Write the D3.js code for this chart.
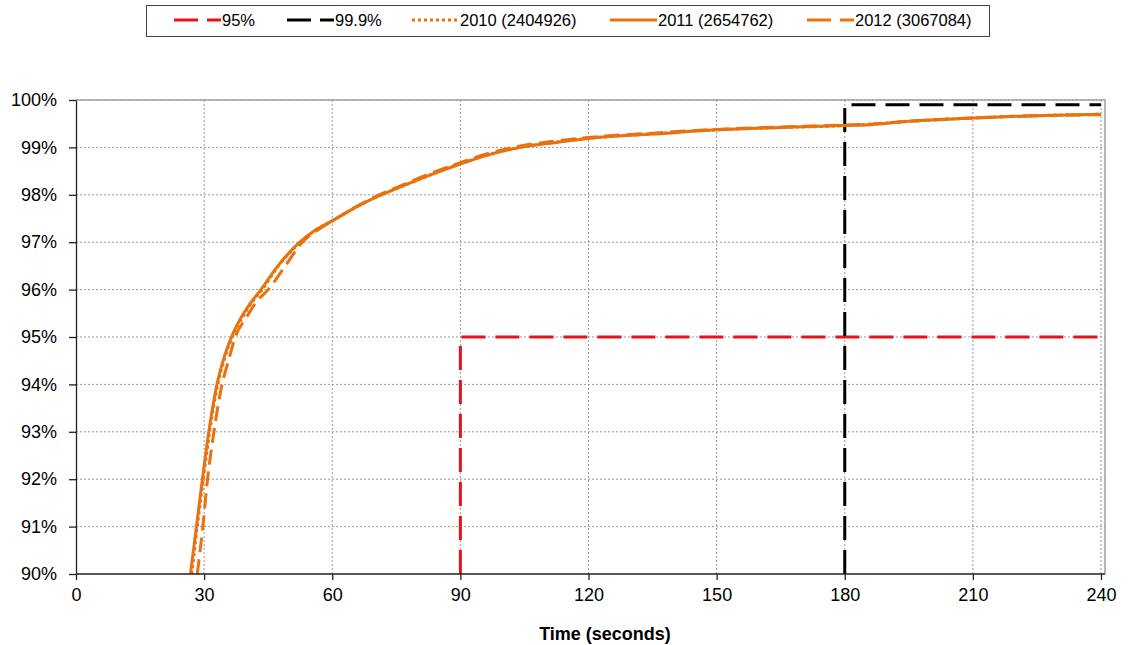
<!DOCTYPE html>
<html>
<head>
<meta charset="utf-8">
<script src="https://cdn.jsdelivr.net/npm/d3@7"></script>
<style>
  body { margin: 0; background: #fff; }
  text { font-family: "Liberation Sans", Arial, sans-serif; fill: #000; }
</style>
</head>
<body>
<div id="chart"></div>
<script>
// response curves (time in s, share answered in %)
var t2010 = [27.1, 28.4, 29.8, 31.3, 33.2, 34.8, 36.6, 38.9, 41.1, 43.6, 47.4, 52.6, 56.0, 60.0, 66.0, 71.0, 75.0, 83.0, 90.0, 98.0, 104.0, 112.0, 120.0, 135.0, 150.0, 165.0, 180.0, 186.0, 195.0, 210.0, 225.0, 240.0];
var v2010 = [90.0, 91.0, 92.0, 93.0, 94.0, 94.55, 95.0, 95.4, 95.72, 96.0, 96.5, 97.0, 97.25, 97.45, 97.76, 97.98, 98.13, 98.42, 98.66, 98.88, 99.0, 99.11, 99.19, 99.29, 99.37, 99.42, 99.46, 99.49, 99.55, 99.62, 99.67, 99.7];

var t2011 = [26.8, 28.2, 29.6, 31.1, 33.0, 34.6, 36.4, 38.6, 40.9, 43.3, 47.0, 52.4, 56.0, 60.0, 66.0, 71.0, 75.0, 83.0, 90.0, 98.0, 104.0, 112.0, 120.0, 135.0, 150.0, 165.0, 180.0, 186.0, 195.0, 210.0, 225.0, 240.0];
var v2011 = [90.0, 91.0, 92.0, 93.0, 94.0, 94.55, 95.0, 95.4, 95.72, 96.0, 96.47, 97.0, 97.25, 97.45, 97.76, 97.98, 98.13, 98.42, 98.65, 98.88, 99.0, 99.1, 99.19, 99.28, 99.37, 99.42, 99.46, 99.48, 99.55, 99.62, 99.67, 99.7];

var t2012 = [28.4, 29.7, 30.8, 32.3, 34.2, 35.7, 37.3, 39.8, 42.3, 45.0, 49.0, 53.0, 57.0, 60.0, 66.0, 71.0, 75.0, 83.0, 90.0, 98.0, 104.0, 112.0, 120.0, 135.0, 150.0, 165.0, 180.0, 186.0, 195.0, 210.0, 225.0, 240.0];
var v2012 = [90.0, 91.0, 92.0, 93.0, 94.0, 94.5, 95.0, 95.4, 95.75, 96.0, 96.5, 97.0, 97.28, 97.45, 97.77, 98.0, 98.15, 98.45, 98.68, 98.91, 99.03, 99.13, 99.21, 99.3, 99.38, 99.43, 99.47, 99.49, 99.55, 99.62, 99.67, 99.69];

// target thresholds (step lines)
var t95 = [90, 90, 240];
var v95 = [90, 95, 95];
var t999 = [180, 180, 240];
var v999 = [90, 99.9, 99.9];

var xTicks = [0, 30, 60, 90, 120, 150, 180, 210, 240];
var yTicks = [90, 91, 92, 93, 94, 95, 96, 97, 98, 99, 100];
var legendLabels = ["95%", "99.9%", "2010 (2404926)", "2011 (2654762)", "2012 (3067084)"];

var orange = "#e8720f";

var margin = {top: 100, right: 24, bottom: 71, left: 76},
    width = 1129 - margin.left - margin.right,
    height = 645 - margin.top - margin.bottom;

var svg = d3.select("#chart")
  .append("svg")
    .attr("width", 1129)
    .attr("height", 645);

var g = svg.append("g")
    .attr("transform", "translate(" + margin.left + "," + margin.top + ")");

var x = d3.scaleLinear()
  .domain([0, 240])
  .range([0, width - 4]);

var y = d3.scaleLinear()
  .domain([90, 100])
  .range([height, 0]);

// grid
g.append("g")
  .selectAll("line")
  .data(yTicks.slice(1))
  .enter()
  .append("line")
    .attr("x1", 0).attr("x2", width)
    .attr("y1", function (d) { return y(d); })
    .attr("y2", function (d) { return y(d); })
    .attr("stroke", "#999")
    .attr("stroke-width", 1)
    .attr("stroke-dasharray", "2,2");

g.append("g")
  .selectAll("line")
  .data(xTicks.slice(1))
  .enter()
  .append("line")
    .attr("x1", function (d) { return x(d); })
    .attr("x2", function (d) { return x(d); })
    .attr("y1", 0).attr("y2", height)
    .attr("stroke", "#999")
    .attr("stroke-width", 1)
    .attr("stroke-dasharray", "2,2");

// plot frame (top/right)
g.append("path")
  .attr("d", "M0,0H" + width + "V" + height)
  .attr("fill", "none")
  .attr("stroke", "#a0a0a0")
  .attr("stroke-width", 1.5);

var line = d3.line()
  .x(function (d) { return x(d[0]); })
  .y(function (d) { return y(d[1]); });

function pairs(ts, vs) {
  return ts.map(function (t, i) { return [t, vs[i]]; });
}

g.append("path")
  .datum(pairs(t95, v95))
  .attr("d", line)
  .attr("fill", "none")
  .attr("stroke", "#e8101a")
  .attr("stroke-width", 3)
  .attr("stroke-dasharray", "24,10");

g.append("path")
  .datum(pairs(t999, v999))
  .attr("d", line)
  .attr("fill", "none")
  .attr("stroke", "#000")
  .attr("stroke-width", 3)
  .attr("stroke-dasharray", "24,10");

var curve = d3.line()
  .x(function (d) { return x(d[0]); })
  .y(function (d) { return y(d[1]); })
  .curve(d3.curveMonotoneX);

g.append("path")
  .datum(pairs(t2012, v2012))
  .attr("d", curve)
  .attr("fill", "none")
  .attr("stroke", orange)
  .attr("stroke-width", 3)
  .attr("stroke-dasharray", "15,7");

g.append("path")
  .datum(pairs(t2010, v2010))
  .attr("d", curve)
  .attr("fill", "none")
  .attr("stroke", orange)
  .attr("stroke-width", 3)
  .attr("stroke-dasharray", "3,3");

g.append("path")
  .datum(pairs(t2011, v2011))
  .attr("d", curve)
  .attr("fill", "none")
  .attr("stroke", orange)
  .attr("stroke-width", 3);

// axes
var xAxis = g.append("g")
  .attr("transform", "translate(0," + height + ")")
  .call(d3.axisBottom(x).tickValues(xTicks).tickSize(6).tickSizeOuter(0));
xAxis.select(".domain").attr("d", "M0,0H" + width);

var yAxis = g.append("g")
  .call(d3.axisLeft(y).tickValues(yTicks).tickSize(7).tickSizeOuter(0)
    .tickFormat(function (d) { return d + "%"; }));

[xAxis, yAxis].forEach(function (a) {
  a.selectAll("path, line").attr("stroke", "#222").attr("stroke-width", 1.3);
  a.selectAll("text")
    .style("font-size", "18px")
    .style("font-family", "'Liberation Sans', Arial, sans-serif")
    .attr("fill", "#000");
});
xAxis.selectAll("text").attr("y", 14);
yAxis.selectAll("text").attr("x", -19);

svg.append("text")
  .attr("x", 605)
  .attr("y", 640)
  .attr("text-anchor", "middle")
  .style("font-size", "18px")
  .style("font-weight", "bold")
  .text("Time (seconds)");

// legend
var legend = svg.append("g");
legend.append("rect")
  .attr("x", 146.5).attr("y", 5.5)
  .attr("width", 843).attr("height", 31)
  .attr("fill", "#fff")
  .attr("stroke", "#444")
  .attr("stroke-width", 1);

var legendX = [174, 287, 412, 610, 807];
var legendStroke = ["#e8101a", "#000", orange, orange, orange];
var legendDash = ["24,9", "24,9", "3,3", null, "24,9"];

legendLabels.forEach(function (lab, i) {
  legend.append("line")
    .attr("x1", legendX[i]).attr("x2", legendX[i] + 47)
    .attr("y1", 20).attr("y2", 20)
    .attr("stroke", legendStroke[i])
    .attr("stroke-width", 3)
    .attr("stroke-dasharray", legendDash[i]);
  legend.append("text")
    .attr("x", legendX[i] + 48)
    .attr("y", 26)
    .style("font-size", "16.5px")
    .text(lab);
});
</script>
</body>
</html>
